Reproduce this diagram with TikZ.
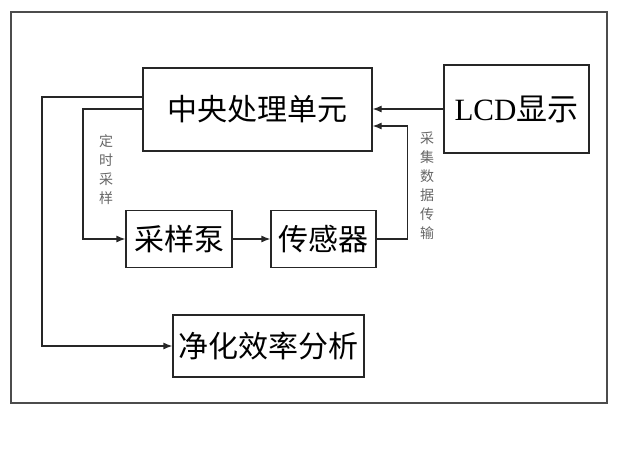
\documentclass[tikz,border=0pt]{standalone}
\usepackage{fontspec}
\setmainfont{Liberation Serif}
\newfontfamily\cjk{Noto Sans CJK SC}
\usetikzlibrary{arrows.meta}
\tikzset{
  blk/.style={draw=black!85, line width=1.2pt, inner sep=0pt, font=\cjk\fontsize{30}{32}\selectfont},
  arr/.style={draw=black!85, line width=1.2pt, -{Latex[length=9pt,width=7pt]}},
  vlab/.style={align=center, inner sep=0pt, text=black!60, font=\cjk\fontsize{14}{19}\selectfont}
}
\begin{document}
\begin{tikzpicture}[x=1pt,y=-1pt]
\useasboundingbox (0,0) rectangle (619,459);
\node[draw=black!70, line width=1.6pt, minimum width=596pt, minimum height=391pt, inner sep=0pt] (frame) at (309,207.5) {};
\node[blk, minimum width=229pt, minimum height=83pt] (cpu) at (257.5,109.5) {中央处理单元};
\node[blk, minimum width=145pt, minimum height=88pt] (lcd) at (516.5,109) {\fontsize{31}{32}\selectfont\rmfamily LCD\cjk 显示};
\node[blk, minimum width=106pt, minimum height=57pt] (pump) at (179,239) {采样泵};
\node[blk, minimum width=105pt, minimum height=57pt] (sensor) at (323.5,239) {传感器};
\node[blk, minimum width=191pt, minimum height=62pt] (clean) at (268.5,346) {净化效率分析};
\node[vlab] (l1) at (106,169.5) {定\\时\\采\\样};
\node[vlab] (l2) at (427,185.5) {采\\集\\数\\据\\传\\输};
\draw[arr] (lcd.west) -- (cpu.east |- lcd.west);
\draw[arr] (sensor.east) -- ++(31,0) |- (cpu.east |- 0,126);
\draw[arr] (cpu.west |- 0,97) -- (42,97) |- (clean.west);
\draw[arr] (cpu.west |- 0,109) -- (83,109) |- (pump.west);
\draw[arr] (pump) -- (sensor);
\end{tikzpicture}
\end{document}
